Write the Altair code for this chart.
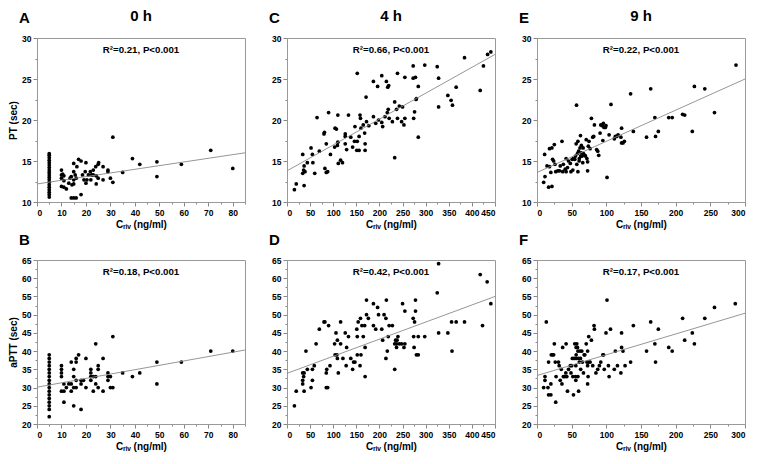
import altair as alt
import pandas as pd

FONT = "Liberation Sans"
W, H = 208, 164

# ---------------- data ----------------
# Panel A : PT vs C_riv at 0 h
a_points = [
    (5, 10.6), (5, 10.9), (5, 11.2), (5, 11.5), (5, 11.8), (5, 12.1), (5, 12.4), (5, 12.7),
    (5, 13.0), (5, 13.3), (5, 13.6), (5, 13.9), (5, 14.2), (5, 14.5), (5, 14.8), (5, 15.1),
    (5, 15.4), (5, 15.7), (5, 15.9),
    (10, 13.9), (10, 13.3), (10.5, 13.4), (11, 13.2), (10, 12.9), (11, 12.6), (10, 11.9),
    (11, 11.8), (12, 11.6), (13, 12.3), (13.5, 12.9), (14, 13.1), (14.3, 12.1), (14, 10.5),
    (15, 10.5), (16, 10.5), (15, 14.7), (15, 13.7), (15.6, 13.3), (15, 12.7), (15, 12.2),
    (16.3, 14.3), (16, 12.9), (17, 15.2), (18, 15.0), (18, 10.9), (18.6, 13.3), (19.2, 12.7),
    (19.7, 13.7), (20, 14.8), (20, 12.3), (20.4, 12.7), (21, 13.3), (21.8, 13.7), (22, 12.7),
    (22.3, 13.3), (23, 13.9), (23, 13.3), (24, 14.3), (24.2, 13.2), (24.2, 12.2), (25, 14.6),
    (25.2, 14.8), (25, 12.9), (27, 14.3), (27, 12.7), (29, 13.9), (29, 13.7), (30, 12.9),
    (31, 12.4), (31, 17.9), (35, 13.6), (39, 15.3), (42, 14.6), (49, 14.9), (49, 13.1),
    (59, 14.6), (71, 16.3), (80, 14.1),
]
a_line = [(0, 12.2), (85, 16.0)]

# Panel B : aPTT vs C_riv at 0 h
b_points = [
    (5, 22), (5, 24), (5, 25), (5, 26), (5, 27), (5, 28), (5, 29), (5, 30), (5, 31), (5, 32),
    (5, 33), (5, 34), (5, 35), (5, 36), (5, 37), (5, 38), (5, 39),
    (10, 36), (10, 35), (10, 34), (10, 33), (10, 29), (11, 29), (11, 31), (11, 26), (12, 30),
    (13, 31), (14, 31), (14, 37), (14, 29), (15, 33), (15, 35), (15, 30), (15, 25), (16, 30),
    (16, 32), (16, 38), (16, 37), (17, 39), (18, 31), (18, 32), (18, 24), (19, 32), (20, 38),
    (20, 30), (22, 35), (22, 34), (22, 33), (22, 32), (23, 29), (23, 33), (24, 33), (24, 42),
    (24, 31), (25, 36), (25, 35), (25, 30), (27, 38), (27, 29), (29, 34), (29, 33), (29, 32),
    (30, 33), (30, 30), (31, 30), (31, 44), (35, 34), (39, 33), (42, 34), (49, 37), (49, 31),
    (59, 37), (71, 40), (80, 40),
]
b_line = [(0, 30.1), (85, 40.3)]

# Panel C : PT vs C_riv at 4 h
c_points = [
    (16, 11.5), (20, 12.2), (34, 15.8), (34, 13.5), (36, 13.9), (37, 12.0), (37, 14.4),
    (39, 13.7), (44, 14.8), (52, 16.6), (55, 15.8), (56, 14.8), (60, 13.5), (65, 20.3),
    (70, 16.2), (80, 18.3), (81, 18.5), (82, 14.1), (85, 17.1), (85, 13.6), (88, 13.7),
    (90, 20.9), (94, 15.8), (103, 16.7), (104, 19.0), (107, 18.9), (109, 16.9), (110, 17.3),
    (110, 20.6), (111, 14.7), (116, 15.1), (120, 14.8), (126, 18.0), (126, 17.1), (126, 18.3),
    (129, 16.4), (133, 20.6), (138, 17.9), (142, 16.7), (146, 17.4), (147, 19.2), (151, 16.3),
    (152, 17.4), (152, 25.7), (156, 16.3), (156, 18.0), (158, 20.6), (159, 20.2), (160, 19.0),
    (165, 19.4), (168, 18.4), (169, 17.1), (169, 16.3), (171, 22.8), (172, 19.8), (177, 19.3),
    (187, 24.7), (187, 20.4), (192, 19.6), (196, 24.1), (198, 20.0), (205, 25.4), (205, 19.7),
    (207, 19.2), (212, 20.4), (215, 24.7), (217, 20.9), (218, 24.0), (219, 21.3), (220, 24.2),
    (221, 20.2), (228, 19.8), (233, 22.2), (233, 15.4), (237, 21.3), (239, 25.7), (239, 20.2),
    (243, 21.7), (248, 19.8), (250, 21.6), (253, 19.4), (255, 20.2), (255, 25.2), (273, 26.6),
    (273, 25.1), (274, 20.2), (276, 21.0), (278, 25.2), (279, 22.5), (280, 22.6), (284, 24.1),
    (284, 17.9), (298, 26.7), (325, 26.5), (328, 25.1), (328, 21.6), (348, 23.0), (355, 22.4),
    (358, 21.8), (366, 24.0), (384, 27.6), (418, 23.6), (425, 26.6), (434, 28.0), (441, 28.3),
]
c_line = [(0, 13.8), (450, 28.0)]

# Panel D : aPTT vs C_riv at 4 h
d_points = [
    (16, 25), (20, 29), (34, 34), (36, 33), (34, 32), (34, 31), (37, 34), (37, 29), (41, 40),
    (44, 35), (55, 35), (55, 32), (52, 30), (59, 36), (63, 42), (70, 46), (80, 48), (82, 48),
    (85, 30), (88, 30), (85, 34), (86, 35), (90, 47), (93, 36), (103, 42), (104, 39), (106, 45),
    (108, 39), (109, 43), (109, 38), (111, 34), (116, 42), (116, 48), (121, 38), (126, 45),
    (128, 36), (129, 41), (133, 44), (138, 38), (142, 35), (144, 37), (147, 37), (151, 46),
    (152, 44), (152, 39), (154, 48), (158, 36), (159, 49), (160, 39), (162, 47), (165, 44),
    (168, 47), (169, 33), (169, 41), (172, 54), (172, 50), (176, 49), (187, 53), (187, 47),
    (192, 46), (196, 52), (198, 50), (205, 46), (207, 43), (210, 50), (214, 49), (214, 38),
    (215, 54), (217, 40), (219, 44), (221, 47), (228, 47), (233, 35), (233, 42), (235, 43),
    (237, 41), (237, 42), (238, 43), (240, 44), (243, 42), (248, 42), (250, 53), (253, 41),
    (255, 51), (255, 42), (273, 49), (274, 44), (275, 41), (276, 48), (278, 51), (278, 54),
    (280, 39), (284, 39), (284, 44), (298, 44), (325, 56), (328, 45), (328, 64), (348, 45),
    (356, 48), (357, 40), (366, 48), (384, 48), (418, 61), (423, 47), (433, 59), (441, 53),
]
d_line = [(0, 33.9), (450, 55.0)]

# Panel E : PT vs C_riv at 9 h
e_points = [
    (9.6, 12.4), (11.5, 13.1), (11, 15.8), (14.4, 14.4), (16.7, 11.8), (18, 14.3), (18, 16.5),
    (21.5, 11.9), (21.5, 16.6), (20, 13.6), (22.5, 15.2), (24, 15.0), (25, 17.0), (26, 14.6),
    (27, 13.7), (30, 13.8), (32.5, 13.8), (33.5, 14.4), (36, 17.4), (37, 13.7), (38, 14.6),
    (40.6, 14.0), (42, 13.7), (42, 15.3), (44, 14.2), (45.5, 15.0), (48, 14.7), (49, 13.7),
    (50.7, 15.2), (51.7, 13.9), (52.6, 15.3), (54.5, 15.2), (55.5, 15.6), (56.5, 17.1),
    (57, 21.8), (57.4, 14.6), (58.4, 15.9), (59, 17.4), (59, 13.7), (60, 16.2), (60.8, 15.0),
    (61, 15.3), (62, 16.6), (62.7, 18.1), (63, 15.6), (63.6, 16.0), (64, 16.9), (65, 15.6),
    (66, 14.8), (66.5, 16.6), (67, 15.9), (69, 15.7), (70, 15.6), (71, 17.6), (72, 15.3),
    (73, 14.9), (73, 13.8), (74, 16.8), (75, 17.4), (76.6, 16.5), (78.5, 20.2), (80.4, 17.9),
    (81.8, 18.0), (82.8, 19.4), (86, 16.4), (87.6, 16.2), (89, 15.7), (91, 18.4), (92, 19.4),
    (94, 19.3), (95, 17.5), (95.7, 19.6), (96.7, 19.1), (98.6, 19.1), (99.5, 19.3), (101, 13.0),
    (104, 18.2), (106.7, 21.9), (111.5, 17.7), (113, 18.0), (115, 18.0), (117, 18.2),
    (121, 17.9), (122, 19.0), (122, 17.2), (124, 17.2), (126, 17.4), (135, 23.2), (139, 18.6),
    (158, 17.9), (164, 23.8), (170, 20.3), (171, 18.0), (175, 18.6), (190, 20.3), (195, 20.3),
    (210, 20.7), (213, 20.6), (224, 18.6), (227, 24.1), (242, 23.8), (256, 20.9), (287, 26.7),
]
e_line = [(0, 13.6), (300, 25.0)]

# Panel F : aPTT vs C_riv at 9 h
f_points = [
    (9.6, 30), (11.5, 33), (11.5, 32), (13.4, 48), (15.8, 30), (16.7, 37), (16.7, 28), (20, 28),
    (20, 31), (20.6, 39), (22.5, 39), (24, 39), (25, 42), (26.3, 37), (27, 26), (27.5, 33),
    (31, 37), (32, 36), (33.5, 32), (35, 35), (36, 31), (37, 41), (38, 33), (40, 33),
    (41.6, 34), (42, 42), (43, 33), (44, 29), (45.5, 35), (48, 36), (49, 34), (50, 36),
    (51, 38), (51.7, 33), (52.6, 28), (53.6, 38), (54.5, 42), (55.5, 33), (56, 36), (56, 32),
    (56.5, 41), (56.5, 39), (56.5, 38), (57.4, 42), (58.4, 41), (59, 40), (59, 33), (60, 38),
    (60, 29), (61, 37), (62, 40), (62.7, 38), (63, 35), (64.6, 40), (65.6, 37), (67, 34),
    (68, 39), (69, 39), (71, 42), (72, 37), (73, 40), (73, 36), (73, 31), (73.7, 33),
    (74.6, 37), (74.6, 44), (76.6, 37), (78.5, 43), (80.4, 36), (82.3, 47), (82.8, 46),
    (85, 34), (87.6, 35), (90, 36), (92, 37), (95, 39), (96, 39), (97, 35), (99.5, 45),
    (101, 54), (103, 36), (104, 33), (106, 46), (111.5, 35), (113, 40), (116, 36), (121, 34),
    (122, 41), (122, 45), (124, 40), (127, 36), (135, 37), (139, 47), (158, 40), (164, 48),
    (170, 42), (171, 37), (175, 46), (190, 41), (195, 40), (210, 49), (213, 43), (224, 45),
    (227, 42), (242, 49), (256, 52), (286, 53),
]
f_line = [(0, 33.3), (300, 50.4)]

# axis ticks
x_ticks_0h = [0, 5, 10, 15, 20, 25, 30, 35, 40, 45, 50, 55, 60, 65, 70, 75, 80, 85]
x_ticks_4h = [0, 25, 50, 75, 100, 125, 150, 175, 200, 225, 250, 275, 300, 325, 350, 375, 400, 425, 450]
x_ticks_9h = [0, 25, 50, 75, 100, 125, 150, 175, 200, 225, 250, 275, 300]
y_ticks_pt = [10, 12.5, 15, 17.5, 20, 22.5, 25, 27.5, 30]
y_ticks_aptt = [20, 22.5, 25, 27.5, 30, 32.5, 35, 37.5, 40, 42.5, 45, 47.5, 50, 52.5, 55, 57.5, 60, 62.5, 65]

column_titles = ["0 h", "4 h", "9 h"]
letters = ["A", "C", "E", "B", "D", "F"]
r2_labels = ["R²=0.21, P<0.001", "R²=0.66, P<0.001", "R²=0.22, P<0.001",
             "R²=0.18, P<0.001", "R²=0.42, P<0.001", "R²=0.17, P<0.001"]
x_title = "Cᵣᵢᵥ (ng/ml)"


def axis(vals, major, title):
    return alt.Axis(
        values=vals,
        labelExpr=f"datum.value % {major} === 0 ? datum.label : ''",
        tickSize={"condition": {"test": f"datum.value % {major} === 0", "value": 4}, "value": 2},
        labelOverlap=False,
        grid=False,
        title=title,
    )


def panel(points, line, xdom, xvals, xmajor, ydom, yvals, ymajor, ytitle, letter, coltitle, r2):
    df = pd.DataFrame(points, columns=["x", "y"])
    ldf = pd.DataFrame(line, columns=["x", "y"])
    xe = alt.X("x:Q", scale=alt.Scale(domain=xdom, nice=False, zero=False),
               axis=axis(xvals, xmajor, x_title))
    ye = alt.Y("y:Q", scale=alt.Scale(domain=ydom, nice=False, zero=False),
               axis=axis(yvals, ymajor, ytitle))
    pts = alt.Chart(df).mark_circle(size=14, color="black", opacity=1).encode(x=xe, y=ye)
    ln = alt.Chart(ldf).mark_line(color="#8a8a8a", strokeWidth=0.9).encode(x=xe, y=ye)
    txt = alt.Chart(pd.DataFrame({"t": [r2]})).mark_text(
        font=FONT, fontSize=9.7, fontWeight="bold", color="black", align="center", baseline="middle"
    ).encode(text="t:N", x=alt.value(W / 2), y=alt.value(12))
    layers = [pts, ln, txt]
    lt = alt.Chart(pd.DataFrame({"t": [letter]})).mark_text(
        font=FONT, fontSize=15, fontWeight="bold", color="black", align="left", baseline="alphabetic"
    ).encode(text="t:N", x=alt.value(-18), y=alt.value(-15))
    layers.append(lt)
    if coltitle:
        ct = alt.Chart(pd.DataFrame({"t": [coltitle]})).mark_text(
            font=FONT, fontSize=15, fontWeight="bold", color="black", align="center", baseline="alphabetic"
        ).encode(text="t:N", x=alt.value(W / 2), y=alt.value(-17))
        layers.append(ct)
    return alt.layer(*layers).properties(width=W, height=H)


pA = panel(a_points, a_line, [0, 85], x_ticks_0h, 10, [10, 30], y_ticks_pt, 5, "PT (sec)", letters[0], column_titles[0], r2_labels[0])
pC = panel(c_points, c_line, [0, 450], x_ticks_4h, 50, [10, 30], y_ticks_pt, 5, None, letters[1], column_titles[1], r2_labels[1])
pE = panel(e_points, e_line, [0, 300], x_ticks_9h, 50, [10, 30], y_ticks_pt, 5, None, letters[2], column_titles[2], r2_labels[2])
pB = panel(b_points, b_line, [0, 85], x_ticks_0h, 10, [20, 65], y_ticks_aptt, 5, "aPTT (sec)", letters[3], None, r2_labels[3])
pD = panel(d_points, d_line, [0, 450], x_ticks_4h, 50, [20, 65], y_ticks_aptt, 5, None, letters[4], None, r2_labels[4])
pF = panel(f_points, f_line, [0, 300], x_ticks_9h, 50, [20, 65], y_ticks_aptt, 5, None, letters[5], None, r2_labels[5])

chart = alt.concat(pA, pC, pE, pB, pD, pF, columns=3, spacing={"row": 58, "column": 42}, bounds="flush").properties(
    padding=0
).configure_view(
    stroke="#999999", strokeWidth=1
).configure_axis(
    labelFont=FONT, labelFontSize=8.5, labelFontWeight="bold", labelColor="black", labelPadding=2,
    titleFont=FONT, titleFontSize=10, titleFontWeight="bold", titleColor="black", titlePadding=3,
    domainColor="#999999", tickColor="#888888", domainWidth=1,
)

chart.save("out.html", embed_options={"renderer": "svg", "actions": False})
